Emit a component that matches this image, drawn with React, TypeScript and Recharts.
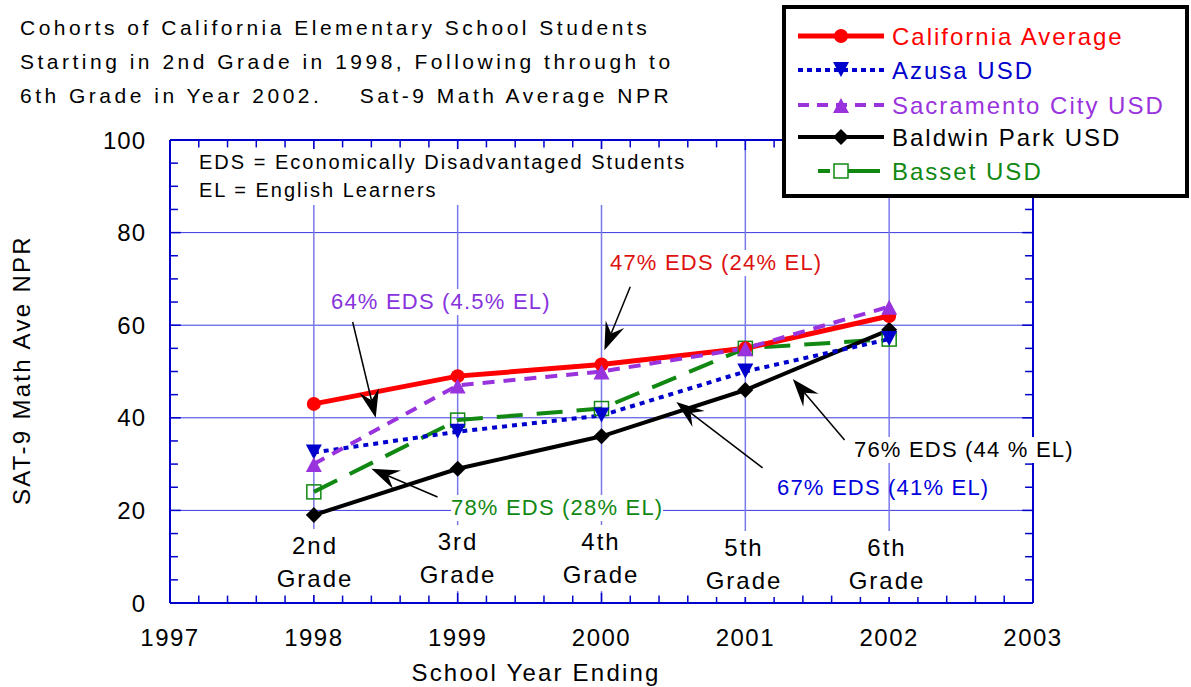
import { LineChart, Line, XAxis, YAxis, CartesianGrid, ReferenceLine } from 'recharts'

const years = [1998, 1999, 2000, 2001, 2002]
const gradeNames = ['2nd', '3rd', '4th', '5th', '6th']
const californiaAvg = [43, 49, 51.5, 55, 62]
const azusa = [32.5, 37, 40.5, 50, 57]
const sacramento = [30, 47, 50, 55, 64]
const baldwinPark = [19, 29, 36, 46, 59]
const basset = [24, 39.5, 42, 55, 57]

const xTicks = [1997, 1998, 1999, 2000, 2001, 2002, 2003]
const yTicks = [0, 20, 40, 60, 80, 100]

// arrows for the call-out notes, in data units
const arrows = [
  { from: { x: 1998.27, y: 60.7 }, to: { x: 1998.43, y: 40 } },
  { from: { x: 2000.2, y: 68.3 }, to: { x: 2000.02, y: 54.6 } },
  { from: { x: 1998.86, y: 22.9 }, to: { x: 1998.4, y: 29 } },
  { from: { x: 2001.12, y: 29.2 }, to: { x: 2000.52, y: 43.4 } },
  { from: { x: 2001.69, y: 35.2 }, to: { x: 2001.33, y: 48.4 } },
]

const data = years.map((year, i) => ({
  year,
  california: californiaAvg[i],
  azusa: azusa[i],
  sacramento: sacramento[i],
  baldwin: baldwinPark[i],
  basset: basset[i],
}))

const RED = '#ff0000'
const BLUE = '#0000cc'
const PURPLE = '#9933dd'
const GREEN = '#118811'
const FRAME = '#0000cc'

const minorX = xTicks.slice(0, -1).flatMap((t) => [1, 2, 3, 4].map((k) => +(t + k * 0.2).toFixed(2)))
const majorX = xTicks.slice(1, -1)
const minorY = yTicks.slice(0, -1).flatMap((t) => [5, 10, 15].map((k) => t + k))
const majorY = yTicks.slice(1, -1)

const Circle = ({ cx, cy }: any) => <circle cx={cx} cy={cy} r={7} fill={RED} />
const TriDown = ({ cx, cy }: any) => (
  <polygon points={`${cx - 8},${cy - 8} ${cx + 8},${cy - 8} ${cx},${cy + 7}`} fill={BLUE} />
)
const TriUp = ({ cx, cy }: any) => (
  <polygon points={`${cx - 8},${cy + 8} ${cx + 8},${cy + 8} ${cx},${cy - 7}`} fill={PURPLE} />
)
const Diamond = ({ cx, cy }: any) => (
  <polygon points={`${cx},${cy - 8} ${cx + 8},${cy} ${cx},${cy + 8} ${cx - 8},${cy}`} fill="#000" />
)
const Square = ({ cx, cy }: any) => (
  <rect x={cx - 7} y={cy - 7} width={14} height={14} fill="none" stroke={GREEN} strokeWidth={1.5} />
)

const ArrowShape = (p: any) => {
  const { x1, y1, x2, y2 } = p
  const a = Math.atan2(y2 - y1, x2 - x1)
  const ux = Math.cos(a)
  const uy = Math.sin(a)
  const L = 28
  const Wd = 10
  const N = 18
  const bx = x2 - ux * L
  const by = y2 - uy * L
  const nx = x2 - ux * N
  const ny = y2 - uy * N
  return (
    <g>
      <line x1={x1} y1={y1} x2={nx} y2={ny} stroke="#000" strokeWidth={1.5} />
      <polygon
        points={`${x2},${y2} ${bx - uy * Wd},${by + ux * Wd} ${nx},${ny} ${bx + uy * Wd},${by - ux * Wd}`}
        fill="#000"
      />
    </g>
  )
}

function Note({ x, cy, size, color = '#000', ls = 1.2, lh, bg = false, center = false, children }: any) {
  const lineH = lh || Math.round(size * 1.2)
  return (
    <div
      style={{
        position: 'absolute',
        left: x,
        top: cy - lineH / 2,
        fontSize: size,
        lineHeight: `${lineH}px`,
        color,
        letterSpacing: ls,
        whiteSpace: 'nowrap',
        background: bg ? '#fff' : 'transparent',
        transform: center ? 'translateX(-50%)' : undefined,
        textAlign: center ? 'center' : 'left',
      }}
    >
      {children}
    </div>
  )
}

const legendItems = [
  { label: 'California Average', color: RED, dash: undefined, marker: 'circle' },
  { label: 'Azusa USD', color: BLUE, dash: '5 4', marker: 'down' },
  { label: 'Sacramento City USD', color: PURPLE, dash: '11 8', marker: 'up' },
  { label: 'Baldwin Park USD', color: '#000', dash: undefined, marker: 'diamond' },
  { label: 'Basset USD', color: GREEN, dash: undefined, marker: 'square' },
]

function LegendSample({ item }: any) {
  const cx = 45
  const cy = 12
  return (
    <svg width={92} height={24} style={{ display: 'block' }}>
      {item.marker === 'square' ? (
        <>
          <line x1={22} y1={cy} x2={34} y2={cy} stroke={item.color} strokeWidth={4} />
          <line x1={52} y1={cy} x2={84} y2={cy} stroke={item.color} strokeWidth={4} />
        </>
      ) : (
        <line x1={2} y1={cy} x2={88} y2={cy} stroke={item.color} strokeWidth={item.marker === 'circle' ? 5 : 4} strokeDasharray={item.dash} />
      )}
      {item.marker === 'circle' && <Circle cx={cx} cy={cy} />}
      {item.marker === 'down' && <TriDown cx={cx} cy={cy} />}
      {item.marker === 'up' && <TriUp cx={cx} cy={cy} />}
      {item.marker === 'diamond' && <Diamond cx={cx} cy={cy} />}
      {item.marker === 'square' && <Square cx={cx} cy={cy} />}
    </svg>
  )
}

const legendRows = [36, 70, 105, 137, 171]
const gradeLabelY = [545, 541, 541, 547, 547]
const gradeLabelX = [315, 458, 601, 744, 887]

export default function App() {
  return (
    <div
      style={{
        position: 'absolute',
        left: 0,
        top: 0,
        width: 1191,
        height: 687,
        background: '#fff',
        fontFamily: "'Liberation Sans', Arial, sans-serif",
        overflow: 'hidden',
      }}
    >
      <LineChart width={1191} height={687} data={data} margin={{ top: 140, right: 158, bottom: 0, left: 110 }}>
        <CartesianGrid vertical={false} stroke="#3a3ae0" strokeWidth={1} />
        <CartesianGrid horizontal={false} stroke="#7a7aea" strokeWidth={1.5} />
        <XAxis
          dataKey="year"
          type="number"
          domain={[1997, 2003]}
          ticks={xTicks}
          allowDataOverflow
          height={84}
          tickLine={false}
          tickSize={0}
          tickMargin={26}
          axisLine={{ stroke: FRAME, strokeWidth: 2 }}
          tick={{ fill: '#000', fontSize: 24, letterSpacing: 1.5 }}
        />
        <YAxis
          type="number"
          domain={[0, 100]}
          ticks={yTicks}
          width={60}
          tickLine={false}
          tickSize={0}
          tickMargin={24}
          axisLine={{ stroke: FRAME, strokeWidth: 2 }}
          tick={{ fill: '#000', fontSize: 24, letterSpacing: 1 }}
        />
        <ReferenceLine y={100} stroke={FRAME} strokeWidth={2} />
        <ReferenceLine x={2003} stroke={FRAME} strokeWidth={2} />
        {minorX.concat(majorX).map((v) => {
          const len = majorX.includes(v) ? 2.2 : 1.6
          return [
            <ReferenceLine key={`b${v}`} segment={[{ x: v, y: 0 }, { x: v, y: len }]} stroke={FRAME} strokeWidth={1.5} ifOverflow="visible" />,
            <ReferenceLine key={`t${v}`} segment={[{ x: v, y: 100 }, { x: v, y: 100 - len }]} stroke={FRAME} strokeWidth={1.5} ifOverflow="visible" />,
          ]
        })}
        {minorY.concat(majorY).map((v) => {
          const len = majorY.includes(v) ? 0.075 : 0.055
          return [
            <ReferenceLine key={`l${v}`} segment={[{ x: 1997, y: v }, { x: 1997 + len, y: v }]} stroke={FRAME} strokeWidth={1.5} ifOverflow="visible" />,
            <ReferenceLine key={`r${v}`} segment={[{ x: 2003, y: v }, { x: 2003 - len, y: v }]} stroke={FRAME} strokeWidth={1.5} ifOverflow="visible" />,
          ]
        })}
        <Line
          dataKey="basset"
          type="linear"
          stroke={GREEN}
          strokeWidth={4}
          strokeDasharray="26 14"
          dot={(p: any) => <Square key={`gs${p.index}`} cx={p.cx} cy={p.cy} />}
          activeDot={false}
          isAnimationActive={false}
        />
        <Line
          dataKey="baldwin"
          type="linear"
          stroke="#000"
          strokeWidth={4}
          dot={(p: any) => <Diamond key={`bd${p.index}`} cx={p.cx} cy={p.cy} />}
          activeDot={false}
          isAnimationActive={false}
        />
        <Line
          dataKey="azusa"
          type="linear"
          stroke={BLUE}
          strokeWidth={4}
          strokeDasharray="5 5"
          dot={(p: any) => <TriDown key={`az${p.index}`} cx={p.cx} cy={p.cy} />}
          activeDot={false}
          isAnimationActive={false}
        />
        <Line
          dataKey="california"
          type="linear"
          stroke={RED}
          strokeWidth={5}
          dot={(p: any) => <Circle key={`ca${p.index}`} cx={p.cx} cy={p.cy} />}
          activeDot={false}
          isAnimationActive={false}
        />
        <Line
          dataKey="sacramento"
          type="linear"
          stroke={PURPLE}
          strokeWidth={4}
          strokeDasharray="12 9"
          dot={(p: any) => <TriUp key={`sc${p.index}`} cx={p.cx} cy={p.cy} />}
          activeDot={false}
          isAnimationActive={false}
        />
        {arrows.map((a, i) => (
          <ReferenceLine key={`arrow${i}`} segment={[a.from, a.to]} shape={ArrowShape} ifOverflow="visible" />
        ))}
      </LineChart>

      {/* title */}
      <div style={{ position: 'absolute', left: 20, top: 11, fontSize: 21, lineHeight: '34px', letterSpacing: 3.5, color: '#000' }}>
        Cohorts of California Elementary School Students
        <br />
        Starting in 2nd Grade in 1998, Following through to
        <br />
        6th Grade in Year 2002.&nbsp;&nbsp;&nbsp; Sat-9 Math Average NPR
      </div>

      {/* key inside plot */}
      <div style={{ position: 'absolute', left: 190, top: 149, width: 510, height: 56, background: '#fff' }} />
      <Note x={199} cy={162} size={20} ls={2}>EDS = Economically Disadvantaged Students</Note>
      <Note x={199} cy={190} size={20} ls={2}>EL = English Learners</Note>

      <Note x={331} cy={302} size={22} color="#8833dd" bg>64% EDS (4.5% EL)</Note>
      <Note x={610} cy={263} size={22} color="#dd1111" bg>47% EDS (24% EL)</Note>
      <Note x={451} cy={508} size={22} color={GREEN} bg>78% EDS (28% EL)</Note>
      <Note x={777} cy={488} size={22} color="#0000dd">67% EDS (41% EL)</Note>
      <Note x={854} cy={450} size={22} color="#000" bg>76% EDS (44 % EL)</Note>

      {gradeNames.map((g, i) => (
        <Note key={g} x={gradeLabelX[i]} cy={gradeLabelY[i]} size={24} lh={33} ls={2} center bg>
          {g}
          <br />
          Grade
        </Note>
      ))}

      {/* axis titles */}
      <Note x={536} cy={672} size={24} ls={2.2} center>School Year Ending</Note>
      <div
        style={{
          position: 'absolute',
          left: 22,
          top: 370,
          fontSize: 24,
          letterSpacing: 2.3,
          whiteSpace: 'nowrap',
          transform: 'translate(-50%, -50%) rotate(-90deg)',
        }}
      >
        SAT-9 Math Ave NPR
      </div>

      {/* legend */}
      <div
        style={{
          position: 'absolute',
          left: 782,
          top: 5,
          width: 399,
          height: 185,
          border: '4px solid #000',
          background: '#fff',
        }}
      />
      {legendItems.map((item, i) => (
        <div key={item.label}>
          <div style={{ position: 'absolute', left: 796, top: legendRows[i] - 12 }}>
            <LegendSample item={item} />
          </div>
          <Note x={892} cy={legendRows[i]} size={24} ls={2} color={item.color}>
            {item.label}
          </Note>
        </div>
      ))}
    </div>
  )
}
